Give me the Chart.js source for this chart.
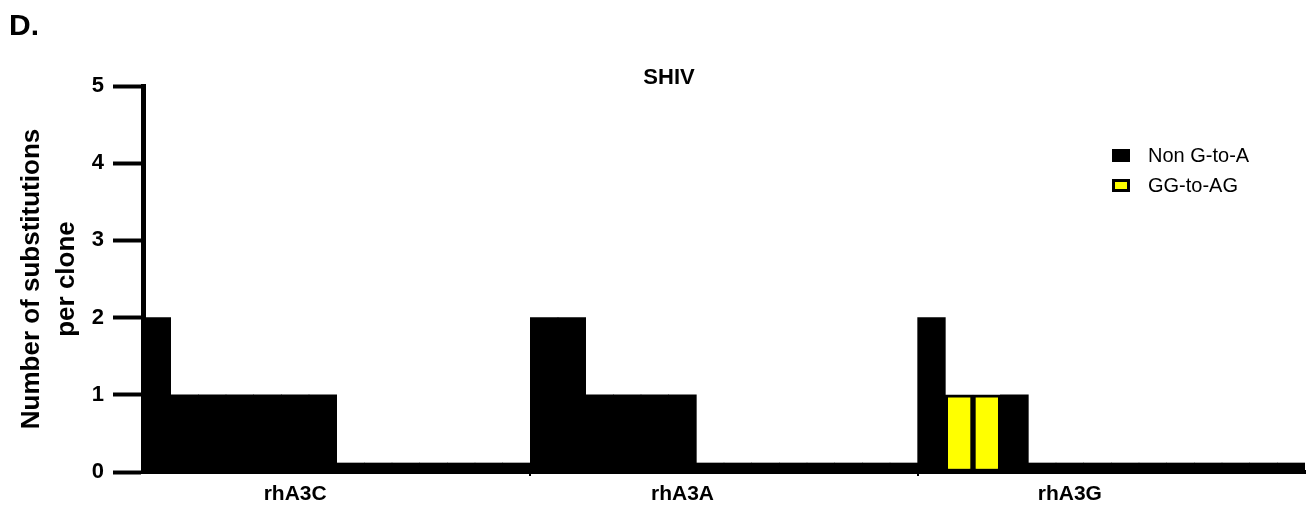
<!DOCTYPE html>
<html>
<head>
<meta charset="utf-8">
<script src="https://cdn.jsdelivr.net/npm/chart.js@4"></script>
<style>
  html, body { margin: 0; padding: 0; background: #fff; }
  #shiv { display: block; }
</style>
</head>
<body>
<canvas id="shiv" width="1313" height="508"></canvas>
<script>
// groups of clones (14 clones per group)
const groups = ["rhA3C", "rhA3A", "rhA3G"];
const clonesPerGroup = 14;
const labelSlot = 5;

// substitutions per clone, one entry per clone
const nonGtoA = [
  2, 1, 1, 1, 1, 1, 1, 0, 0, 0, 0, 0, 0, 0,
  2, 2, 1, 1, 1, 1, 0, 0, 0, 0, 0, 0, 0, 0,
  2, null, null, 1, 0, 0, 0, 0, 0, 0, 0, 0, 0, 0
];
const ggToAg = [
  null, null, null, null, null, null, null, null, null, null, null, null, null, null,
  null, null, null, null, null, null, null, null, null, null, null, null, null, null,
  null, 1, 1, null, null, null, null, null, null, null, null, null, null, null
];
const yTicks = [0, 1, 2, 3, 4, 5];

const FONT = "'Liberation Sans', Arial, sans-serif";

// one label per group, the rest empty
const labels = [];
groups.forEach(function (g) {
  for (let i = 0; i < clonesPerGroup; i++) labels.push(i === labelSlot ? g : "");
});

// extra text + legend
const decor = {
  id: "decor",
  afterDraw: function (chart) {
    const c = chart.ctx;
    c.save();
    c.fillStyle = "#000";
    c.textBaseline = "middle";
    c.font = "bold 30px " + FONT;
    c.textAlign = "left";
    c.fillText("D.", 9, 27);
    c.font = "bold 22px " + FONT;
    c.textAlign = "center";
    c.fillText("SHIV", 669, 78);

    c.font = "20px " + FONT;
    c.textAlign = "left";
    chart.data.datasets.forEach(function (ds, i) {
      const y = 155 + i * 30;
      c.fillStyle = "#000";
      c.fillRect(1112, y - 6, 18, 13);
      if (ds.backgroundColor !== "#000000") {
        c.fillStyle = ds.backgroundColor;
        c.fillRect(1115, y - 3, 12, 7);
      }
      c.fillStyle = "#000";
      c.fillText(ds.label, 1148, y + 1);
    });
    c.restore();
  }
};

new Chart(document.getElementById("shiv"), {
  type: "bar",
  data: {
    labels: labels,
    datasets: [
      {
        label: "Non G-to-A",
        data: nonGtoA,
        backgroundColor: "#000000",
        borderWidth: 0,
        minBarLength: 9,
      },
      {
        label: "GG-to-AG",
        data: ggToAg,
        backgroundColor: "#ffff00",
        borderColor: "#000000",
        borderWidth: 3,
        borderSkipped: false,
      },
    ],
  },
  options: {
    responsive: false,
    animation: false,
    barPercentage: 1,
    categoryPercentage: 1,
    layout: { padding: { top: 86, right: 8, left: 0, bottom: 0 } },
    plugins: {
      legend: { display: false },
      tooltip: { enabled: false },
    },
    scales: {
      x: {
        stacked: true,
        afterFit: function (s) { s.height = 36; },
        border: { display: true, color: "#000", width: 4 },
        grid: {
          drawOnChartArea: false,
          tickLength: 4,
          lineWidth: 2,
          color: function (ctx) {
            return ctx.index > 0 && ctx.index % clonesPerGroup === 0 ? "#000" : "rgba(0,0,0,0)";
          },
        },
        ticks: {
          autoSkip: false,
          maxRotation: 0,
          padding: 6,
          color: "#000",
          font: { family: FONT, size: 21, weight: "bold" },
        },
      },
      y: {
        stacked: true,
        min: 0,
        max: 5,
        afterFit: function (s) { s.width = 143; },
        afterBuildTicks: function (s) {
          s.ticks = yTicks.map(function (v) { return { value: v }; });
        },
        border: { display: true, color: "#000", width: 5 },
        grid: {
          drawOnChartArea: false,
          tickLength: 30,
          tickWidth: 4,
          color: "#000",
        },
        ticks: {
          padding: 9,
          color: "#000",
          font: { family: FONT, size: 22, weight: "bold" },
        },
        title: {
          display: true,
          text: ["Number of substitutions", "per clone"],
          color: "#000",
          font: { family: FONT, size: 26, weight: "bold", lineHeight: 1.35 },
          padding: { top: 14, bottom: 0 },
        },
      },
    },
  },
  plugins: [decor],
});
</script>
</body>
</html>
